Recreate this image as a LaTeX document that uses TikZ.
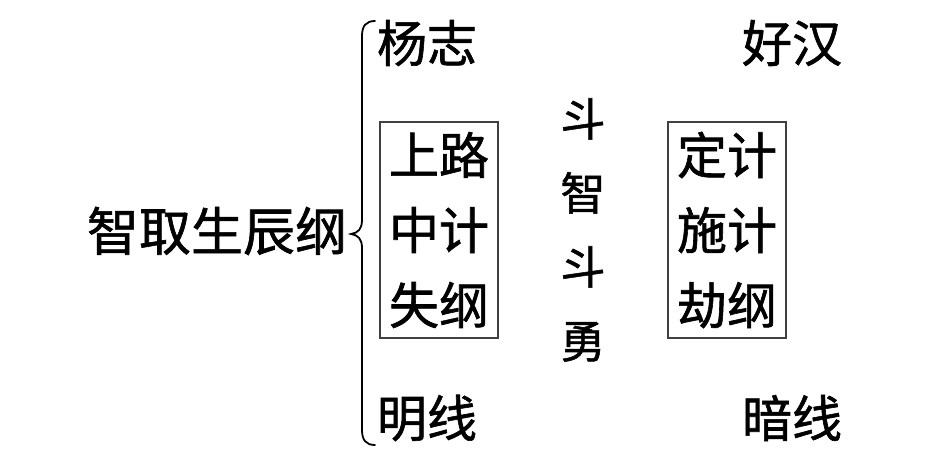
\documentclass[tikz,border=0pt]{standalone}
\usepackage{fontspec}
\newfontfamily\cjk[FakeBold=1.2]{Noto Sans CJK SC}
\begin{document}
\begin{tikzpicture}[x=1pt,y=-1pt,
  big/.style={font=\cjk\fontsize{50}{75}\selectfont, inner sep=0pt, anchor=center},
  mid/.style={font=\cjk\fontsize{45}{74}\selectfont, inner sep=0pt, anchor=center},
  framebox/.style={draw=black!75, line width=1.3pt, minimum width=118pt, minimum height=216pt, inner sep=0pt, align=center}]
\useasboundingbox (0,0) rectangle (943,455);
% title
\node[big, font=\cjk\fontsize{52}{75}\selectfont] (title) at (217,231) {智取生辰纲};
% brace
\coordinate (btop) at (375,21);
\coordinate (bbot) at (375,445);
\coordinate (btip) at (351,234);
\draw[line width=1.8pt, line cap=round]
  (btop) .. controls (366,21) and (362,26) .. (362,36)
  -- (362,220) .. controls (362,229) and (358,233) .. (btip)
  .. controls (358,235) and (362,239) .. (362,248)
  -- (362,430) .. controls (362,440) and (366,445) .. (bbot);
% top/bottom labels
\node[big] (yangzhi) at (427,43) {杨志};
\node[big] (haohan) at (792,43) {好汉};
\node[big] (mingxian) at (427,418) {明线};
\node[big] (anxian) at (792,418) {暗线};
% boxes
\node[framebox, big] (left) at (439,230) {上路\\中计\\失纲};
\node[framebox, big] (right) at (727,230) {定计\\施计\\劫纲};
% middle column
\node[mid, align=center] (mid) at (583,230) {斗\\智\\斗\\勇};
\end{tikzpicture}
\end{document}
